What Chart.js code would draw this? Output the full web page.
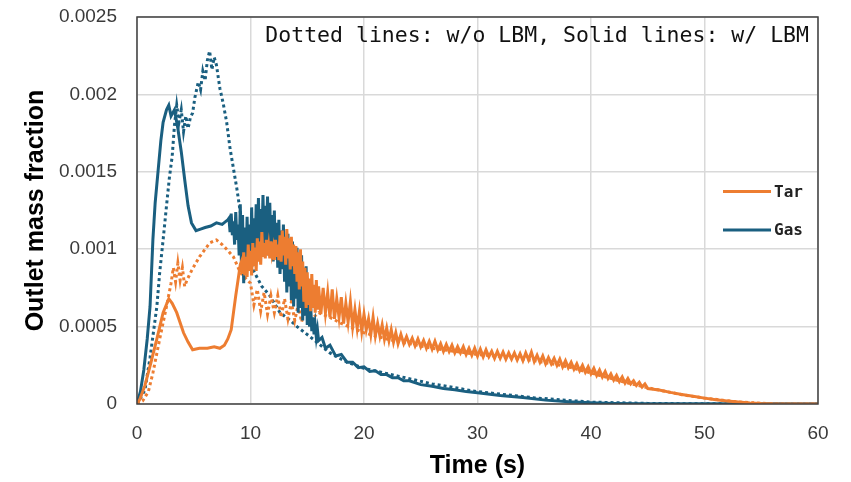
<!DOCTYPE html>
<html lang="en">
<head>
<meta charset="UTF-8">
<title>Outlet mass fraction</title>
<style>
    body { margin: 0; background: #fff; }
    canvas { display: block; }
</style>
</head>
<body>
<canvas id="chart" width="851" height="482"></canvas>
<script src="https://cdn.jsdelivr.net/npm/chart.js"></script>
<script>
// values are in units of 1e-4 (outlet mass fraction)
const UNIT = 1e-4;

const xTicks = [0, 10, 20, 30, 40, 50, 60];
const yTickValues = [0, 0.0005, 0.001, 0.0015, 0.002, 0.0025];
const yTickLabels = ['0', '0.0005', '0.001', '0.0015', '0.002', '0.0025'];

// Tar, solid line (w/ LBM)
const tarSolidTime = [0, 0.25, 0.7, 1.2, 1.75, 2.3, 2.8, 3.1, 3.5, 4.1, 4.5, 4.9, 5.5, 6.2, 6.8, 7.3, 7.7, 8.0, 8.3, 8.5, 8.7, 8.9, 9.1,
    9.2, 9.3, 9.4, 9.5, 9.6, 9.7, 9.8, 9.9, 10.0, 10.1, 10.2, 10.3, 10.4, 10.5, 10.6, 10.7, 10.8, 10.9, 11.0, 11.1, 11.2, 11.3,
    11.4, 11.5, 11.6, 11.7, 11.8, 11.9, 12.0, 12.1, 12.2, 12.3, 12.4, 12.5, 12.6, 12.7, 12.8, 12.9, 13.0, 13.1, 13.2, 13.3,
    13.4, 13.5, 13.6, 13.7, 13.8, 13.9, 14.0, 14.1, 14.2, 14.3, 14.4, 14.5, 14.6, 14.7, 14.8, 14.9, 15.0, 15.1, 15.2, 15.3,
    15.4, 15.5, 15.6, 15.7, 15.8, 15.9, 16.0,
    16.2, 16.4, 16.6, 16.8, 17.0, 17.2, 17.4, 17.6, 17.8, 18.0, 18.2, 18.4, 18.6, 18.8, 19.0, 19.2, 19.4, 19.6, 19.8, 20.0,
    20.2, 20.4, 20.6, 20.8, 21.0, 21.2, 21.4, 21.6, 21.8, 22.0, 22.2, 22.4, 22.6, 22.8, 23.0,
    23.25, 23.5, 23.75, 24, 24.25, 24.5, 24.75, 25, 25.25, 25.5, 25.75, 26, 26.25, 26.5, 26.75, 27,
    27.25, 27.5, 27.75, 28, 28.25, 28.5, 28.75, 29, 29.25, 29.5, 29.75, 30, 30.25, 30.5, 30.75, 31,
    31.25, 31.5, 31.75, 32, 32.25, 32.5, 32.75, 33, 33.25, 33.5, 33.75, 34, 34.25, 34.5, 34.75, 35,
    35.25, 35.5, 35.75, 36, 36.25, 36.5, 36.75, 37, 37.25, 37.5, 37.75, 38, 38.25, 38.5, 38.75, 39,
    39.25, 39.5, 39.75, 40, 40.25, 40.5, 40.75, 41, 41.25, 41.5, 41.75, 42, 42.25, 42.5, 42.75, 43,
    43.25, 43.5, 43.75, 44, 44.25, 44.5, 44.75, 45,
    46, 47, 48, 49, 50, 51, 52, 53, 54, 55, 56, 60];
const tarSolid = [0, 0.3, 1.2, 2.6, 4.2, 5.9, 6.8, 6.5, 5.9, 4.6, 4.0, 3.5, 3.6, 3.6, 3.7, 3.6, 3.8, 4.2, 4.8, 5.9, 7.0, 8.0, 9.0,
    9.2, 8.4, 9.8, 8.3, 9.5, 8.2, 10.3, 8.6, 9.9, 8.3, 10.4, 8.9, 10.1, 8.6, 10.7, 9.2, 10.5, 9.0, 11.1, 9.5, 10.4, 9.4,
    10.6, 9.6, 10.2, 9.4, 10.5, 9.7, 10.1, 9.3, 10.6, 9.5, 10.3, 9.3, 10.9, 9.2, 11.2, 9.6, 10.8, 9.0, 11.3, 9.4,
    10.7, 8.7, 10.8, 8.9, 10.3, 8.4, 10.2, 7.9, 9.8, 7.4, 10.0, 7.6, 9.2, 6.6, 8.8, 6.2, 8.5, 6.4, 8.1, 6.0,
    8.4, 6.2, 7.7, 5.9, 8.0, 6.1, 7.6,
    5.8, 7.5, 5.9, 7.2, 5.6, 7.4, 5.5, 6.8, 5.6, 6.9, 5.2, 6.5, 5.3, 6.6, 5.0, 6.1, 4.9, 6.0, 4.7, 5.8,
    4.8, 5.5, 4.5, 5.6, 4.4, 5.2, 4.4, 5.1, 4.2, 4.9, 4.1, 4.8, 4.0, 4.6, 3.9,
    4.5, 3.9, 4.35, 3.85, 4.25, 3.75, 4.2, 3.7, 4.1, 3.6, 4.05, 3.55, 4.05, 3.5, 3.9, 3.4,
    3.85, 3.4, 3.8, 3.3, 3.7, 3.3, 3.7, 3.2, 3.6, 3.15, 3.6, 3.1, 3.55, 3.05, 3.5, 3.05,
    3.4, 2.95, 3.4, 2.95, 3.35, 2.9, 3.3, 2.9, 3.3, 2.85, 3.25, 2.8, 3.3, 2.85, 3.35, 2.75,
    3.15, 2.7, 3.1, 2.6, 3.0, 2.6, 2.95, 2.5, 2.9, 2.4, 2.8, 2.35, 2.7, 2.25, 2.6, 2.15,
    2.5, 2.05, 2.4, 1.95, 2.3, 1.85, 2.2, 1.75, 2.1, 1.65, 1.95, 1.55, 1.85, 1.45, 1.75, 1.35,
    1.65, 1.3, 1.5, 1.2, 1.4, 1.1, 1.3, 1.0,
    0.9, 0.75, 0.62, 0.5, 0.38, 0.28, 0.2, 0.13, 0.07, 0.03, 0.01, 0];

// Gas, solid line (w/ LBM)
const gasSolidTime = [0, 0.3, 0.6, 0.9, 1.15, 1.4, 1.6, 1.85, 2.1, 2.3, 2.6, 2.8, 3.0, 3.3, 3.6, 3.9, 4.2, 4.5, 4.8, 5.2, 5.6, 6.0, 6.5, 7.0, 7.5, 8.0,
    8.1, 8.2, 8.3, 8.4, 8.5, 8.6, 8.7, 8.8, 8.9, 9.0, 9.1, 9.2, 9.3, 9.4, 9.5, 9.6, 9.7, 9.8, 9.9, 10.0,
    10.1, 10.2, 10.3, 10.4, 10.5, 10.6, 10.7, 10.8, 10.9, 11.0, 11.1, 11.2, 11.3, 11.4, 11.5, 11.6, 11.7, 11.8, 11.9, 12.0,
    12.1, 12.2, 12.3, 12.4, 12.5, 12.6, 12.7, 12.8, 12.9, 13.0, 13.1, 13.2, 13.3, 13.4, 13.5, 13.6, 13.7, 13.8, 13.9, 14.0,
    14.1, 14.2, 14.3, 14.4, 14.5, 14.6, 14.7, 14.8, 14.9, 15.0, 15.1, 15.2, 15.3, 15.4, 15.5, 15.6, 15.7, 15.8, 15.9, 16.0,
    16.3, 16.6, 17.0, 17.5, 18.0, 18.5, 19.0, 19.5, 20.0, 20.5, 21.0, 21.5, 22.0, 22.5, 23.0, 23.5, 24, 25, 26, 27,
    28, 29, 30, 32, 34, 36, 38, 40, 42, 45, 50, 60];
const gasSolid = [0, 0.8, 2.2, 4.2, 6.3, 10.6, 13.0, 15.0, 17.0, 18.2, 19.0, 19.3, 18.6, 19.0, 17.8, 16.3, 14.5, 12.8, 11.7, 11.2, 11.3, 11.4, 11.5, 11.7, 11.6, 11.9,
    12.0, 11.1, 12.3, 10.9, 11.8, 10.3, 12.4, 10.6, 11.6, 9.6, 12.9, 9.0, 12.2, 7.8, 11.4, 8.6, 12.1, 9.2, 11.6, 8.8,
    12.7, 9.6, 12.0, 9.9, 12.9, 10.3, 13.3, 9.8, 12.6, 10.4, 13.5, 10.0, 12.8, 10.6, 13.4, 9.6, 13.0, 9.9, 12.2, 9.2,
    12.5, 9.5, 11.7, 8.8, 11.9, 8.4, 11.2, 8.7, 11.6, 7.9, 10.8, 7.2, 11.0, 7.6, 10.3, 6.7, 10.5, 6.3, 9.6, 6.8,
    10.1, 5.9, 9.4, 6.2, 9.6, 5.4, 8.8, 5.7, 8.9, 5.1, 7.6, 5.0, 6.4, 4.7, 5.6, 4.5, 5.1, 4.3, 4.8, 4.1,
    4.3, 3.6, 3.8, 3.1, 3.2, 2.7, 2.7, 2.35, 2.4, 2.1, 2.15, 1.9, 1.9, 1.7, 1.7, 1.5, 1.5, 1.25, 1.15, 1.0,
    0.92, 0.8, 0.72, 0.55, 0.42, 0.25, 0.14, 0.08, 0.04, 0.02, 0.01, 0];

// Tar, dotted line (w/o LBM)
const tarDotTime = [0, 0.5, 1.0, 1.4, 2.0, 2.6, 3.0, 3.2, 3.4, 3.6, 3.8, 4.0, 4.2, 4.4, 4.6, 4.8, 5.1, 5.5, 6.0, 6.4,
    7.0, 7.5, 7.9, 8.5, 9.1, 9.7, 10.0, 10.3, 10.6, 10.9, 11.2, 11.5, 11.8, 12.1, 12.4, 12.7, 13.0, 13.3, 13.6, 13.9,
    14.2, 14.5, 14.8, 15.1, 16, 17, 18, 19, 20, 22, 24, 26, 28, 30, 33, 35, 38, 40, 43, 45, 48, 50, 53, 56, 60];
const tarDot = [0, 0.2, 0.8, 2.0, 4.2, 6.3, 7.8, 8.8, 7.9, 9.1, 8.0, 8.8, 7.6, 8.0, 8.3, 8.6, 9.0, 9.5, 10.0, 10.4,
    10.6, 10.3, 10.0, 9.5, 8.5, 8.0, 7.8, 6.4, 7.4, 6.0, 7.2, 5.8, 7.0, 5.9, 7.0, 5.6, 6.8, 5.5, 6.6, 5.4,
    6.4, 5.3, 6.2, 5.3, 5.9, 5.6, 5.2, 4.9, 4.6, 4.2, 3.9, 3.6, 3.4, 3.2, 3.0, 2.8, 2.4, 2.0, 1.4, 1.05, 0.6, 0.38, 0.13, 0.01, 0];

// Gas, dotted line (w/o LBM)
const gasDotTime = [0, 0.7, 1.15, 1.75, 2.0, 2.3, 2.6, 2.85, 3.1, 3.3, 3.5, 3.7, 3.9, 4.1, 4.3, 4.5, 4.7, 4.9, 5.1, 5.4,
    5.6, 5.8, 6.0, 6.2, 6.4, 6.6, 6.8, 7.0, 7.3, 7.6, 7.9, 8.2, 8.5, 8.8, 9.1, 9.5, 10.2, 11.0, 11.7, 12.6,
    13.5, 14.1, 15.5, 17, 18.5, 20, 23, 26, 30, 35, 40, 45, 50, 60];
const gasDot = [0, 0.9, 3.0, 6.3, 8.5, 10.6, 12.8, 14.6, 16.0, 18.0, 19.3, 18.2, 19.0, 17.6, 18.6, 17.8, 18.5, 18.8, 19.8, 20.8,
    20.3, 21.5, 20.9, 22.2, 22.8, 21.6, 22.4, 21.9, 20.4, 19.4, 18.2, 16.5, 15.2, 13.9, 12.4, 10.6, 8.7, 7.6, 7.0, 5.9,
    5.4, 5.0, 4.2, 3.3, 2.7, 2.3, 1.8, 1.3, 0.8, 0.4, 0.12, 0.04, 0.01, 0];

const TAR = '#ed7d31';
const GAS = '#1a5f80';
const note = 'Dotted lines: w/o LBM, Solid lines: w/ LBM';

function toPoints(times, vals) {
    return times.map((t, i) => ({ x: t, y: vals[i] * UNIT }));
}

// frame, legend and the note inside the plot area
const overlay = {
    id: 'overlay',
    afterDraw(chart) {
        const { ctx, chartArea: a } = chart;
        ctx.save();
        ctx.strokeStyle = '#404040';
        ctx.lineWidth = 1.5;
        ctx.strokeRect(a.left, a.top, a.right - a.left, a.bottom - a.top);

        ctx.fillStyle = '#111';
        ctx.font = '21.5px "DejaVu Sans Mono"';
        ctx.textAlign = 'right';
        ctx.textBaseline = 'alphabetic';
        ctx.fillText(note, a.right - 9, a.top + 25);

        const items = [['Tar', TAR, 191.5], ['Gas', GAS, 230]];
        ctx.font = 'bold 16px "DejaVu Sans Mono"';
        ctx.textAlign = 'left';
        ctx.textBaseline = 'middle';
        items.forEach(([label, color, y]) => {
            ctx.strokeStyle = color;
            ctx.lineWidth = 3;
            ctx.beginPath();
            ctx.moveTo(a.right - 95, y);
            ctx.lineTo(a.right - 47, y);
            ctx.stroke();
            ctx.fillStyle = '#222';
            ctx.fillText(label, a.right - 44, y + 1);
        });
        ctx.restore();
    }
};

const tickFont = { family: '"Liberation Sans", Arial, sans-serif', size: 19 };
const titleFont = { family: '"Liberation Sans", Arial, sans-serif', size: 25, weight: 'bold' };

new Chart(document.getElementById('chart'), {
    type: 'line',
    data: {
        datasets: [
            { label: 'Tar', data: toPoints(tarSolidTime, tarSolid), borderColor: TAR, borderWidth: 3 },
            { label: 'Gas', data: toPoints(gasSolidTime, gasSolid), borderColor: GAS, borderWidth: 3 },
            { label: 'Tar (w/o LBM)', data: toPoints(tarDotTime, tarDot), borderColor: TAR, borderWidth: 3, borderDash: [3, 3] },
            { label: 'Gas (w/o LBM)', data: toPoints(gasDotTime, gasDot), borderColor: GAS, borderWidth: 3, borderDash: [3, 3] }
        ]
    },
    options: {
        responsive: false,
        animation: false,
        devicePixelRatio: 1,
        layout: { padding: { top: 17, right: 33, bottom: 0, left: 0 } },
        elements: { point: { radius: 0 }, line: { tension: 0 } },
        plugins: { legend: { display: false }, tooltip: { enabled: false } },
        scales: {
            x: {
                type: 'linear',
                min: 0,
                max: 60,
                afterBuildTicks: (s) => { s.ticks = xTicks.map(v => ({ value: v })); },
                ticks: { padding: 18, font: tickFont, color: '#3a3a3a' },
                grid: { color: '#d9d9d9', lineWidth: 1.5, drawTicks: false },
                border: { display: false },
                title: { display: true, text: 'Time (s)', font: titleFont, color: '#000', padding: { top: 0, bottom: 1 } },
                afterFit: (s) => { s.height = 78; s.paddingLeft = 0; s.paddingRight = 0; }
            },
            y: {
                type: 'linear',
                min: 0,
                max: 0.0025,
                afterBuildTicks: (s) => { s.ticks = yTickValues.map(v => ({ value: v })); },
                ticks: { padding: 20, font: tickFont, color: '#3a3a3a', callback: (v, i) => yTickLabels[i] },
                grid: { color: '#d9d9d9', lineWidth: 1.5, drawTicks: false },
                border: { display: false },
                title: { display: true, text: 'Outlet mass fraction', font: titleFont, color: '#000', padding: { top: 21, bottom: 0 } },
                afterFit: (s) => { s.width = 137; s.paddingTop = 0; s.paddingBottom = 0; }
            }
        }
    },
    plugins: [overlay]
});
</script>
</body>
</html>
